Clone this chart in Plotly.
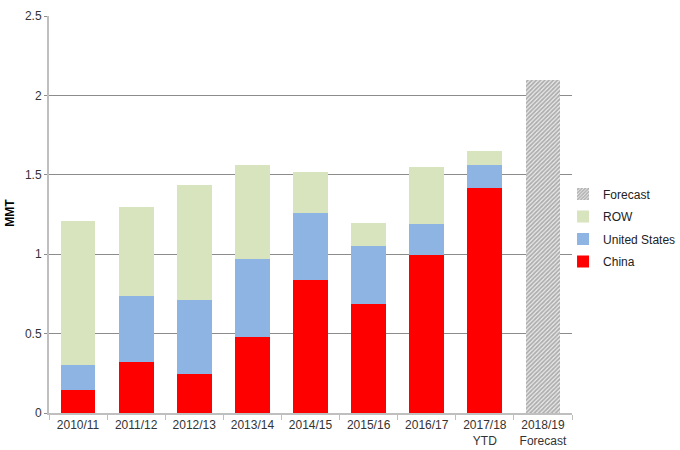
import plotly.graph_objects as go

categories = ["2010/11", "2011/12", "2012/13", "2013/14", "2014/15", "2015/16", "2016/17", "2017/18<br>YTD", "2018/19<br>Forecast"]
china = [0.143, 0.32, 0.248, 0.479, 0.836, 0.689, 0.994, 1.414, None]
us = [0.157, 0.415, 0.462, 0.491, 0.424, 0.363, 0.196, 0.147, None]
row = [0.91, 0.565, 0.725, 0.593, 0.26, 0.143, 0.36, 0.088, None]
forecast = [None, None, None, None, None, None, None, None, 2.10]

fig = go.Figure()
fig.add_trace(go.Bar(name="China", x=categories, y=china, legendrank=4, legendgroup="c",
                     marker=dict(color="#FF0000", line=dict(width=0))))
fig.add_trace(go.Bar(name="United States", x=categories, y=us, legendrank=3, legendgroup="u",
                     marker=dict(color="#8EB4E3", line=dict(width=0))))
fig.add_trace(go.Bar(name="ROW", x=categories, y=row, legendrank=2, legendgroup="r",
                     marker=dict(color="#D7E4BD", line=dict(width=0))))
fig.add_trace(go.Bar(name="Forecast", x=categories, y=forecast, legendrank=1, legendgroup="f",
                     marker=dict(color="#FFFFFF", line=dict(width=0),
                                 pattern=dict(shape="/", fgcolor="#6E6E6E", bgcolor="#EDEDED", size=3, solidity=0.6))))

fig.update_layout(
    barmode="stack",
    bargap=0.4,
    width=680, height=450,
    margin=dict(l=49, r=108, t=16, b=37, autoexpand=False),
    paper_bgcolor="white", plot_bgcolor="white",
    font=dict(family="Liberation Sans, Arial, sans-serif", size=12, color="#333333"),
    legend=dict(traceorder="grouped", xref="container", yref="container",
                x=0.828, xanchor="left", y=0.601, yanchor="top",
                font=dict(size=12, color="#222222"), itemwidth=30, tracegroupgap=3.5,
                bgcolor="rgba(0,0,0,0)"),
    showlegend=True,
    annotations=[dict(text="<b>MMT</b>", xref="paper", yref="paper", x=-0.0736, y=0.503,
                      xanchor="center", yanchor="middle", textangle=-90, showarrow=False,
                      font=dict(size=12, color="#000000"))],
)
fig.update_yaxes(range=[0, 2.5], tickvals=[0, 0.5, 1, 1.5, 2, 2.5], ticktext=["0", "0.5", "1", "1.5", "2", "2.5"],
                 showgrid=True, gridcolor="#8C8C8C", gridwidth=1,
                 showline=True, linecolor="#BFBFBF", linewidth=2,
                 ticks="outside", ticklen=3, tickcolor="#8C8C8C",
                 automargin=False, zeroline=False)
fig.update_xaxes(showline=True, linecolor="#BFBFBF", linewidth=2, tickangle=0,
                 ticks="outside", ticklen=5, tickcolor="#BFBFBF", tickson="boundaries",
                 showgrid=False, automargin=False)

fig.write_html("out.html", config={"displayModeBar": False},
               post_script="document.body.style.margin='0';")
